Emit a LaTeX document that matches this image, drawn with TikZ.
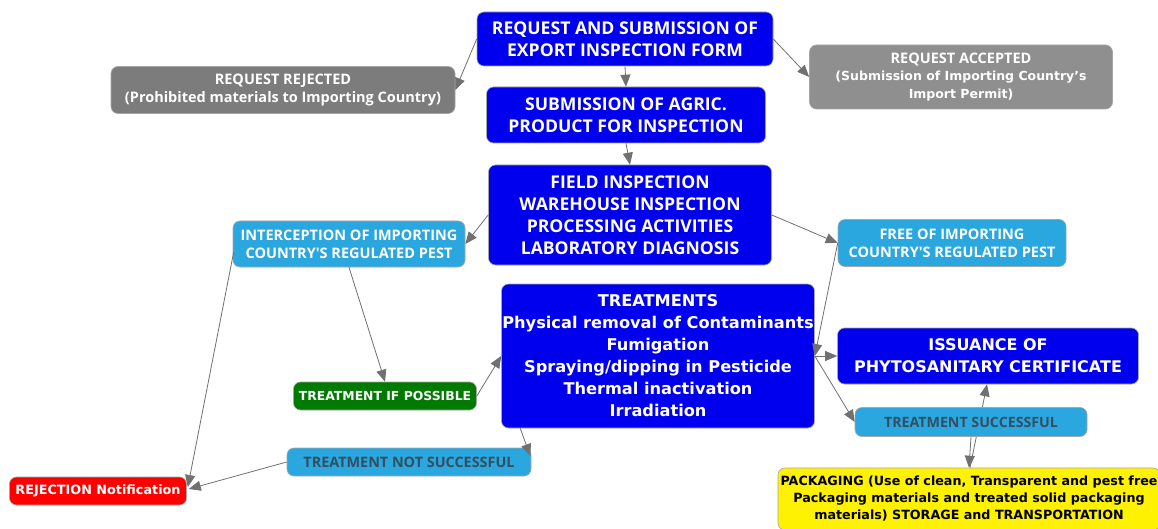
\documentclass[tikz,border=0pt]{standalone}
\usepackage{fontspec}
\setmainfont{Open Sans}
\newfontfamily\dv{DejaVu Sans}
\usetikzlibrary{arrows.meta,calc}
\pgfdeclarelayer{bglayer}
\pgfdeclarelayer{edgelayer}
\pgfsetlayers{bglayer,edgelayer,main}
\definecolor{bblue}{RGB}{0,0,238}
\definecolor{gbox}{RGB}{124,124,124}
\definecolor{gbox2}{RGB}{143,143,143}
\definecolor{lblue}{RGB}{41,167,222}
\definecolor{gbox3}{RGB}{0,122,0}
\definecolor{darktxt}{RGB}{52,78,98}
\definecolor{edgec}{RGB}{112,112,112}
\tikzset{
  box/.style={rectangle, rounded corners=7pt, draw=black!35, line width=0.6pt, align=center, inner sep=0pt, font=\bfseries},
  bluebox/.style={box, fill=bblue, text=white},
  greybox/.style={box, fill=gbox, text=white},
  lbbox/.style={box, fill=lblue, text=white},
  lbdark/.style={box, fill=lblue, text=darktxt},
  conn/.style={draw=edgec, line width=0.8pt, -{Triangle[length=12pt,width=10pt]}}
}
\begin{document}
\begin{tikzpicture}[x=1pt,y=-1pt]
\begin{pgfonlayer}{bglayer}
\fill[white] (0,0) rectangle (1158,529);
\end{pgfonlayer}
\useasboundingbox (0,0) rectangle (1158,529);
% nodes
\node[bluebox, minimum width=296pt, minimum height=54pt, font=\bfseries\fontsize{17.6}{22}\selectfont] (form) at (625,39) {REQUEST AND SUBMISSION OF\\EXPORT INSPECTION FORM};
\node[greybox, minimum width=344pt, minimum height=47pt, font=\bfseries\fontsize{14.5}{18}\selectfont] (rej) at (283,90) {REQUEST REJECTED\\(Prohibited materials to Importing Country)};
\node[greybox, fill=gbox2, minimum width=303pt, minimum height=64pt, font=\fontsize{12.5}{17.5}\selectfont] (acc) at (961,77) {\fontsize{14.5}{17.5}\selectfont\bfseries REQUEST ACCEPTED\\\dv\bfseries (Submission of Importing Country’s\\\dv\bfseries Import Permit)};
\node[bluebox, minimum width=279pt, minimum height=56pt, font=\bfseries\fontsize{17.6}{22}\selectfont] (sub) at (626,115) {SUBMISSION OF AGRIC.\\PRODUCT FOR INSPECTION};
\node[bluebox, minimum width=283pt, minimum height=100pt, font=\bfseries\fontsize{17.6}{22}\selectfont] (field) at (630,215) {FIELD INSPECTION\\WAREHOUSE INSPECTION\\PROCESSING ACTIVITIES\\LABORATORY DIAGNOSIS};
\node[lbbox, minimum width=232pt, minimum height=46pt, font=\bfseries\fontsize{14.5}{18}\selectfont] (intc) at (349,244) {INTERCEPTION OF IMPORTING\\COUNTRY\textquotesingle S REGULATED PEST};
\node[lbbox, minimum width=228pt, minimum height=47pt, font=\bfseries\fontsize{14.5}{18}\selectfont] (free) at (952,243) {FREE OF IMPORTING\\COUNTRY\textquotesingle S REGULATED PEST};
\node[bluebox, minimum width=313pt, minimum height=144pt, font=\dv\bfseries\fontsize{16.2}{22}\selectfont] (treat) at (658,356) {TREATMENTS\\Physical removal of Contaminants\\Fumigation\\Spraying/dipping in Pesticide\\Thermal inactivation\\Irradiation};
\node[bluebox, minimum width=301pt, minimum height=56pt, font=\dv\bfseries\fontsize{16}{22}\selectfont] (iss) at (988,356) {ISSUANCE OF\\PHYTOSANITARY CERTIFICATE};
\node[box, fill=gbox3, text=white, minimum width=183pt, minimum height=28pt, font=\dv\bfseries\fontsize{12.4}{14}\selectfont] (tip) at (385,396) {TREATMENT IF POSSIBLE};
\node[lbdark, minimum width=232pt, minimum height=29pt, font=\bfseries\fontsize{14.2}{16}\selectfont] (succ) at (971,422) {TREATMENT SUCCESSFUL};
\node[lbdark, minimum width=244pt, minimum height=28pt, font=\bfseries\fontsize{14.4}{16}\selectfont] (notsucc) at (409,462) {TREATMENT NOT SUCCESSFUL};
\node[box, fill=red, text=white, minimum width=177pt, minimum height=28pt, font=\dv\bfseries\fontsize{12.8}{14}\selectfont] (rejn) at (98,491) {REJECTION Notification};
\node[box, fill=yellow, text=black, minimum width=382pt, minimum height=62pt, font=\dv\bfseries\fontsize{12.7}{17}\selectfont] (pack) at (969,499) {PACKAGING (Use of clean, Transparent and pest free\\Packaging materials and treated solid packaging\\materials) STORAGE and TRANSPORTATION};
% connectors
\draw[conn] (form.west) -- (rej.east);
\draw[conn] (form.east) -- (acc.west);
\draw[conn] (form.south) -- (sub.north);
\draw[conn] (sub.south) -- (field.north);
\draw[conn] (field.west) -- (intc.east);
\draw[conn] (field.east) -- (free.west);
\draw[conn] (free.west) -- (treat.east);
\draw[conn] (treat.east) -- (iss.west);
\draw[conn] (treat.east) -- (succ.west);
\begin{pgfonlayer}{edgelayer}
\draw[conn] ($(pack.north)+(1,0)$) -- ($(iss.south)+(-1,0)$);
\end{pgfonlayer}
\draw[conn] ($(succ.south)+(0,0)$) -- ($(pack.north)+(0,0)$);
\draw[conn] ($(intc.west)+(1,8)$) -- ($(rejn.east)+(1,-4)$);
\draw[conn] (intc.south) -- (tip.north);
\draw[conn] (tip.east) -- (treat.west);
\draw[conn] ($(treat.south west)+(19,0)$) -- ($(notsucc.east)+(-1,-6)$);
\draw[conn] (notsucc.west) -- ($(rejn.east)+(2,-2)$);
\end{tikzpicture}
\end{document}
